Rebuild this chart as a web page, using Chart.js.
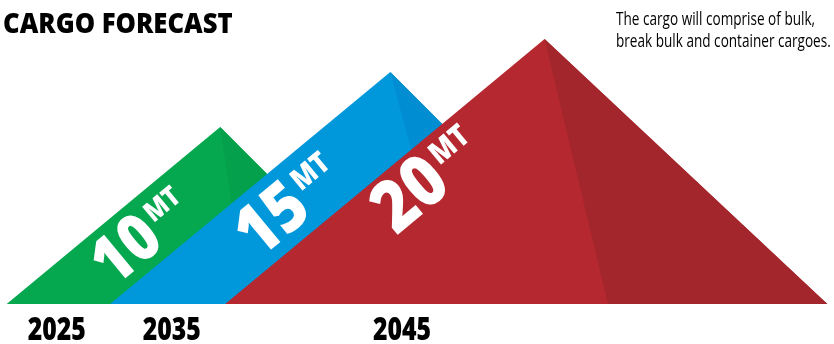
<!DOCTYPE html>
<html>
<head>
<meta charset="utf-8">
<script src="https://cdn.jsdelivr.net/npm/chart.js@4"></script>
<style>
  html, body { margin: 0; padding: 0; background: #fff; }
  #wrap { position: relative; width: 834px; height: 344px; overflow: hidden; }
  #cargo { position: absolute; left: 0; top: 0; }
  .txt { position: absolute; color: #000; white-space: nowrap; transform-origin: 0 0;
         font-family: 'Open Sans', sans-serif; }
  #title { left: 3px; top: 7px; font-size: 29px; line-height: 29px; font-weight: 800; }
  #note  { left: 616px; top: 7px; font-size: 18px; line-height: 22px; }
</style>
</head>
<body>
<div id="wrap">
  <canvas id="cargo" width="834" height="344"></canvas>
  <div id="title" class="txt">CARGO FORECAST</div>
  <div id="note" class="txt">The cargo will comprise of bulk,<br>break bulk and container cargoes.</div>
</div>
<script>
/* ===== data (x: % of width, y: relative height) ===== */
const years      = ['2025', '2035', '2045'];
const yearPos    = [6.8, 20.6, 48.2];

const volumes    = [10, 15, 20];          // MT
const mountainX  = [                       // left base, peak, right base
  [0.8, 26.4, 47.6],
  [13.2, 46.8, 74.6],
  [27.0, 65.3, 99.2]
];
const mountainY  = [58.2, 76.3, 87.2];     // peak heights
const shadeBaseX = [29.7, 54.3, 72.9];     // where the dark face meets the ground
const labelX     = [13.6, 31.0, 47.5];
const labelY     = [5.3, 14.5, 22.4];

const colors     = ['#05a74f', '#0097db', '#b5282f'];
const shades     = ['#04a04b', '#008dd2', '#a2262c'];

const FONT = "'Open Sans', sans-serif";
const COND = 0.8;   // squeeze to look like a condensed face
const numSize = [66, 70, 72];
const mtSize  = [28, 30, 31];

/* ===== build datasets ===== */
const datasets = [];
volumes.forEach((v, i) => {
  const [l, p, r] = mountainX[i];
  const h = mountainY[i];
  datasets.push({
    label: v + 'MT',
    data: [{ x: l, y: 0 }, { x: p, y: h }, { x: r, y: 0 }],
    backgroundColor: colors[i], borderWidth: 0, pointRadius: 0,
    fill: 'shape', tension: 0, order: 10 - i * 2
  });
  datasets.push({
    label: v + 'MT shade',
    data: [{ x: shadeBaseX[i], y: 0 }, { x: p, y: h }, { x: r, y: 0 }],
    backgroundColor: shades[i], borderWidth: 0, pointRadius: 0,
    fill: 'shape', tension: 0, order: 9 - i * 2
  });
});

/* ===== squeezed canvas text ===== */
function condText (ctx, text, x, y, font, sx = COND) {
  ctx.save();
  ctx.translate(x, y);
  ctx.scale(sx, 1);
  ctx.font = font;
  ctx.fillText(text, 0, 0);
  const w = ctx.measureText(text).width * sx;
  ctx.restore();
  return w;
}

/* ===== rotated "10MT" labels + year labels ===== */
const mtLabels = {
  id: 'mtLabels',
  afterDatasetsDraw (chart) {
    const { ctx, scales: { x, y } } = chart;
    volumes.forEach((v, i) => {
      const [l, p] = mountainX[i];
      const ang = Math.atan2(y.getPixelForValue(mountainY[i]) - y.getPixelForValue(0),
                             x.getPixelForValue(p) - x.getPixelForValue(l));
      ctx.save();
      ctx.translate(x.getPixelForValue(labelX[i]), y.getPixelForValue(labelY[i]));
      ctx.rotate(ang);
      ctx.fillStyle = '#fff';
      ctx.textBaseline = 'alphabetic';
      const w = condText(ctx, String(v), 0, 0, `800 ${numSize[i]}px ${FONT}`, 0.88);
      const rise = (numSize[i] - mtSize[i]) * 0.714 - 3;
      condText(ctx, 'MT', w + 4, -rise, `800 ${mtSize[i]}px ${FONT}`, 0.86);
      ctx.restore();
    });

    // year labels under the ground line
    ctx.save();
    ctx.fillStyle = '#000';
    ctx.textBaseline = 'alphabetic';
    ctx.font = '800 31px ' + FONT;
    years.forEach((yr, i) => {
      const w = ctx.measureText(yr).width * COND;
      condText(ctx, yr, x.getPixelForValue(yearPos[i]) - w / 2, chart.chartArea.bottom + 36, '800 31px ' + FONT);
    });
    ctx.restore();
  }
};

/* ===== chart ===== */
new Chart(document.getElementById('cargo'), {
  type: 'line',
  data: { datasets },
  plugins: [mtLabels],
  options: {
    responsive: false,
    animation: false,
    layout: { padding: { top: 0, left: 0, right: 0, bottom: 40 } },
    plugins: { legend: { display: false }, tooltip: { enabled: false }, title: { display: false } },
    scales: {
      x: { type: 'linear', min: 0, max: 100, display: false },
      y: { type: 'linear', min: 0, max: 100, display: false }
    }
  }
});

/* ===== squeeze the html texts to the target widths ===== */
[['title', 230], ['note', 215]].forEach(([id, target]) => {
  const el = document.getElementById(id);
  el.style.transform = `scaleX(${target / el.scrollWidth})`;
});
</script>
</body>
</html>
